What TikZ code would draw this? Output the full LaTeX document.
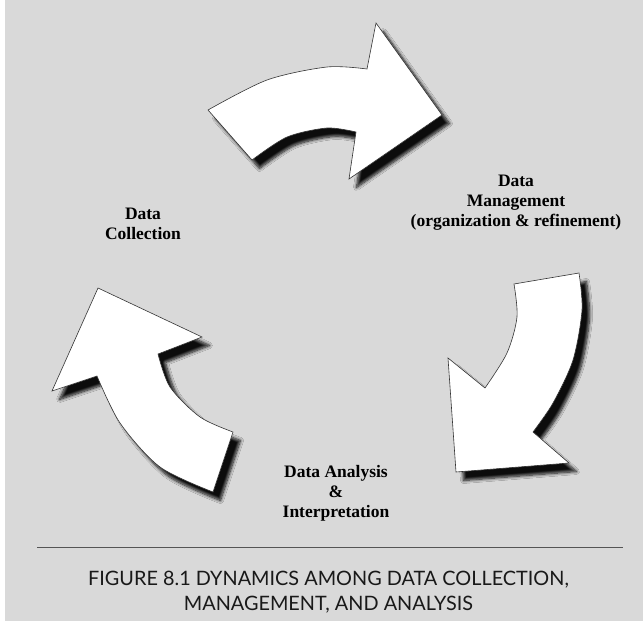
\documentclass[tikz,border=0pt]{standalone}
\usepackage{fontspec}
\setmainfont{Liberation Serif}
\newfontfamily\capfont{Lato}
\usetikzlibrary{shadows.blur}
\definecolor{bggray}{HTML}{D9D9D9}
\definecolor{edgegray}{HTML}{333333}
\definecolor{rulegray}{HTML}{555555}
\tikzset{
  bigarrow/.style={fill=white, draw=edgegray, line width=0.6pt, line join=miter,
    blur shadow={shadow xshift=7.5pt, shadow yshift=-8.5pt, shadow blur radius=3pt,
      shadow blur steps=8, shadow opacity=94}},
  lbl/.style={font=\fontsize{17.5}{20}\selectfont\bfseries, align=center, text=black, inner sep=0pt},
  captext/.style={font=\capfont\fontsize{19.85}{25}\selectfont, align=center, text=black!90, inner sep=0pt}
}
\begin{document}
\begin{tikzpicture}[x=1pt,y=-1pt]
\useasboundingbox (0,0) rectangle (643,621);
\fill[white] (0,0) rectangle (643,621);
\fill[bggray] (5,0) rectangle (643,621);
% top arrow
\path[bigarrow] (252,160) -- (208,110)
  -- plot[smooth] coordinates {(208,110) (267,80) (327,67) (367,69)}
  -- (376,23) -- (442,115) -- (349,179) -- (356,132)
  -- plot[smooth] coordinates {(356,132) (327,128) (287,137) (252,160)} -- cycle;
% right arrow
\path[bigarrow] (514,284) -- (579,273)
  -- plot[smooth] coordinates {(579,273) (582,310) (573,360) (553,403) (533,432)}
  -- (569,463) -- (456,472) -- (448,358) -- (485,388)
  -- plot[smooth] coordinates {(485,388) (507,353) (517,317) (514,284)} -- cycle;
% left arrow
\path[bigarrow] (98,288) -- (202,337) -- (158,354)
  -- plot[smooth] coordinates {(158,354) (170,387) (200,417) (233,432)}
  -- (213,492)
  -- plot[smooth] coordinates {(213,492) (160,467) (120,423) (97,376)}
  -- (52,391) -- cycle;
% labels
\node[lbl] (coll) at (143,224) {Data\\Collection};
\node[lbl] (mgmt) at (516,203) {Data\\Management\\(organization \& refinement)};
\node[lbl] (anal) at (336,493) {Data Analysis\\\&\\Interpretation};
% rule and caption
\coordinate (rl) at (37,547.5);
\coordinate (rr) at (622.5,547.5);
\draw[rulegray, line width=1pt] (rl) -- (rr);
\node[captext] (caption) at (328.5,592) {FIGURE 8.1 DYNAMICS AMONG DATA COLLECTION,\\MANAGEMENT, AND ANALYSIS};
\end{tikzpicture}
\end{document}
